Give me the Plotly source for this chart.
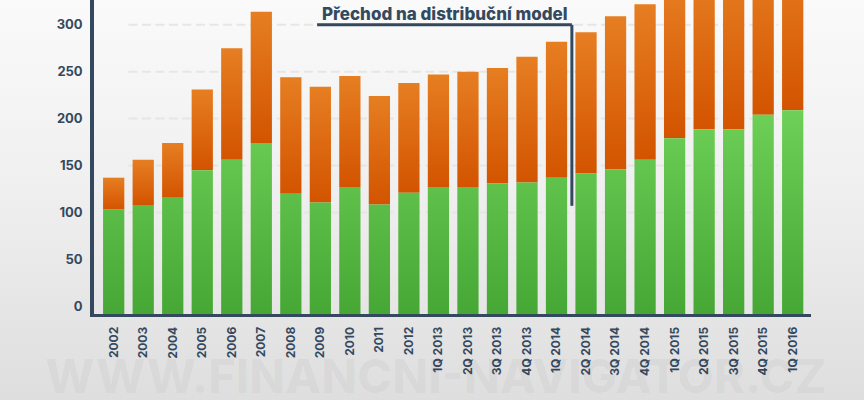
import plotly.graph_objects as go

categories = ["2002","2003","2004","2005","2006","2007","2008","2009","2010","2011","2012",
              "1Q 2013","2Q 2013","3Q 2013","4Q 2013","1Q 2014","2Q 2014","3Q 2014","4Q 2014",
              "1Q 2015","2Q 2015","3Q 2015","4Q 2015","1Q 2016"]
green_values = [103,108,115.5,145,156,174,120,110.5,127,108.5,121,127,127,131,132,137,141.5,146,156,179,188.5,188.5,204,209]
total_values = [137,156,174,231,275,314,244,234,245.5,224,238,247,250,254,266,282,292,309,322,345,355,360,370,380]
y_ticks = [0,50,100,150,200,250,300]
grid_values = [100,150,200,250,300]
BASELINE = -8.3
TOP = 326.4
NAVY = "#34495e"

fig = go.Figure()
fig.add_bar(x=categories, y=[t-g for t,g in zip(total_values,green_values)], base=green_values, marker=dict(color="#dc6a10", line_width=0), width=0.72, name="orange")
fig.add_bar(x=categories, y=[g-BASELINE for g in green_values], base=BASELINE, marker=dict(color="#56b844", line_width=0), width=0.72, name="green")

shapes = []
for g in grid_values:
    shapes.append(dict(type="line", layer="below", xref="x", yref="y", x0=0.5, x1=22.5, y0=g, y1=g,
                       line=dict(color="#e6e6e6", width=2, dash="9px,4.5px")))
shapes.append(dict(type="line", xref="x", yref="y", x0=6.89, x1=15.52, y0=300, y1=300, line=dict(color=NAVY, width=2.8)))
shapes.append(dict(type="line", xref="x", yref="y", x0=15.52, x1=15.52, y0=300, y1=107, line=dict(color=NAVY, width=3)))

annotations = [
    dict(text="Přechod na distribuční model", xref="x", yref="y", x=11.22, y=300, yanchor="bottom", yshift=-1, showarrow=False,
         font=dict(family="Inter", size=17, color=NAVY, weight=800)),
    dict(text="WWW.FINANCNI-NAVIGATOR.CZ", xref="paper", yref="paper", x=0.5, xshift=-17, y=-0.10, yanchor="top", showarrow=False,
         font=dict(family="Inter", size=47, color="rgba(0,0,0,0.035)", weight=800)),
]

fig.update_layout(
    width=864, height=400, margin=dict(l=94, r=53, t=0, b=86), barmode="overlay",
    showlegend=False, paper_bgcolor="#f0f0f0", plot_bgcolor="rgba(0,0,0,0)",
    shapes=shapes, annotations=annotations,
    xaxis=dict(type="category", range=[-0.667, 23.62], showline=True, linewidth=3, linecolor=NAVY, showgrid=False, ticks="",
               tickangle=-90, tickfont=dict(family="Inter", size=12, color=NAVY, weight=700), ticklabelstandoff=5, fixedrange=True),
    yaxis=dict(range=[BASELINE, TOP], showline=True, linewidth=3.5, linecolor=NAVY, showgrid=False, zeroline=False, ticks="",
               tickvals=y_ticks, tickfont=dict(family="Inter", size=13, color=NAVY, weight=700), ticklabelstandoff=5, fixedrange=True),
)

post = """
document.body.style.margin='0';
var gd=document.getElementById('{plot_id}');
var svg=gd.querySelector('.main-svg');
svg.style.background='linear-gradient(180deg,#fafafa 0%,#f0f0f0 45%,#dedede 100%)';
var ns='http://www.w3.org/2000/svg';
var defs=svg.querySelector('defs');
function grad(id,a,b,user){var g=document.createElementNS(ns,'linearGradient');g.id=id;
if(user){g.setAttribute('gradientUnits','userSpaceOnUse');g.setAttribute('x1','0');g.setAttribute('y1','105');g.setAttribute('x2','0');g.setAttribute('y2','314');}
else{g.setAttribute('x1','0');g.setAttribute('y1','0');g.setAttribute('x2','0');g.setAttribute('y2','1');}
[[0,a],[1,b]].forEach(function(s){var st=document.createElementNS(ns,'stop');st.setAttribute('offset',s[0]);st.setAttribute('stop-color',s[1]);g.appendChild(st);});defs.appendChild(g);}
grad('gOrange','#e67e22','#d35400',false);grad('gGreen','#6fd158','#46a735',true);
var t=gd.querySelectorAll('.barlayer .trace');
t[0].querySelectorAll('path').forEach(function(p){p.style.fill='url(#gOrange)';});
t[1].querySelectorAll('path').forEach(function(p){p.style.fill='url(#gGreen)';});
"""
fig.write_html("out.html", post_script=post, config=dict(displayModeBar=False))
